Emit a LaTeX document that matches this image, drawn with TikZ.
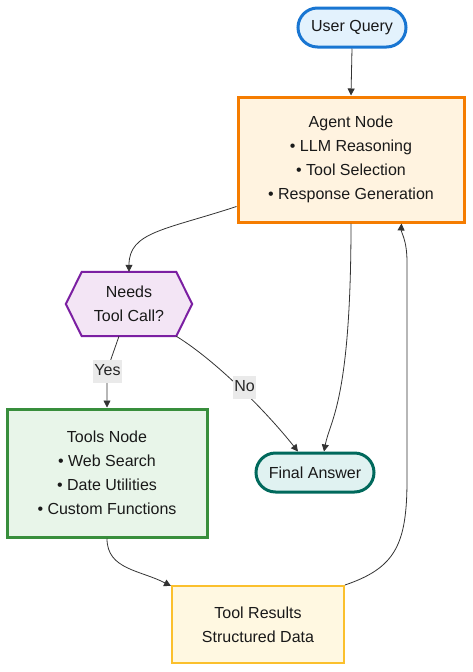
\documentclass[tikz,border=0pt]{standalone}
\usepackage{fontspec}
\setmainfont{Liberation Sans}
\usetikzlibrary{arrows.meta,calc}
\definecolor{bluebd}{HTML}{1976D2}\definecolor{bluefl}{HTML}{E3F2FD}
\definecolor{orabd}{HTML}{F57C00}\definecolor{orafl}{HTML}{FFF3E0}
\definecolor{purbd}{HTML}{7B1FA2}\definecolor{purfl}{HTML}{F3E5F5}
\definecolor{grnbd}{HTML}{388E3C}\definecolor{grnfl}{HTML}{E8F5E9}
\definecolor{tealbd}{HTML}{00695C}\definecolor{tealfl}{HTML}{E0F2F1}
\definecolor{yelbd}{HTML}{FBC02D}\definecolor{yelfl}{HTML}{FFF8E1}
\definecolor{edgec}{HTML}{333333}\definecolor{lblbg}{HTML}{EAEAEA}
\begin{document}
\begin{tikzpicture}[x=1pt,y=-1pt,
  txt/.style={font=\fontsize{16}{24}\selectfont, text=black!90, align=center, inner sep=0pt},
  stadium/.style={txt, rounded corners=19.5pt, line width=3pt, minimum height=39pt},
  box/.style={txt, line width=3pt},
  edge/.style={draw=edgec, line width=0.8pt, -{Triangle[length=7pt,width=7pt]}},
  lbl/.style={font=\fontsize{16}{18}\selectfont, fill=lblbg, text=black!85, inner xsep=1pt, inner ysep=0pt,
    minimum height=23pt, text height=11.5pt, text depth=3.5pt}
]
\useasboundingbox (0,0) rectangle (473,672);

\node[stadium, draw=bluebd, fill=bluefl, minimum width=108pt] (uq) at (352,27.5) {User Query};
\node[box, draw=orabd, fill=orafl, minimum width=226pt, minimum height=125pt] (agent) at (351,159.5)
  {Agent Node\\ • LLM Reasoning\\ • Tool Selection\\ • Response Generation};
\node[txt, minimum width=126pt, minimum height=64pt] (hex) at (129,304) {};
\draw[purbd, fill=purfl, line width=2pt, line join=miter]
  (hex.west) -- ($(hex.north west)+(16,0)$) -- ($(hex.north east)+(-16,0)$) -- (hex.east)
  -- ($(hex.south east)+(-16,0)$) -- ($(hex.south west)+(16,0)$) -- cycle;
\node[txt] at (hex.center) {Needs\\ Tool Call?};
\node[box, draw=grnbd, fill=grnfl, minimum width=200pt, minimum height=128pt] (tools) at (107,473)
  {Tools Node\\ • Web Search\\ • Date Utilities\\ • Custom Functions};
\node[stadium, draw=tealbd, fill=tealfl, minimum width=118pt] (final) at (315,472.5) {Final Answer};
\node[box, draw=yelbd, fill=yelfl, line width=2pt, minimum width=172pt, minimum height=77pt] (res) at (258,624.5)
  {Tool Results\\ Structured Data};

\draw[edge] (uq.south) -- (agent.north);
\draw[edge] ($(agent.south west)+(0,-17)$) .. controls (165,230) and ($(hex.north)+(0,-40)$) .. (hex.north);
\draw[edge] ($(hex.south)+(-10,0)$) -- ($(tools.north)+(0,-37)$) -- (tools.north);
\node[lbl] (yes) at ($(tools.north)+(0.5,-36.5)$) {Yes};
\draw[edge] ($(hex.south east)+(-16,0)$) .. controls (215,360) and (265,410) .. ($(final.north)+(-17,0)$);
\node[lbl] (no) at (244.5,387.5) {No};
\draw[edge] (agent.south) .. controls ($(agent.south)+(0,178)$) and (330,420) .. ($(final.north)+(9,0)$);
\draw[edge] (tools.south) .. controls ($(tools.south)+(0,31)$) and (140,570) .. ($(res.north west)+(0,1)$);
\draw[edge] (res.north east) .. controls (395,568) and (407,545) .. (407,480) -- (407,262)
  .. controls (407,240) and (401,232) .. ($(agent.south east)+(-64,0)$);
\end{tikzpicture}
\end{document}
